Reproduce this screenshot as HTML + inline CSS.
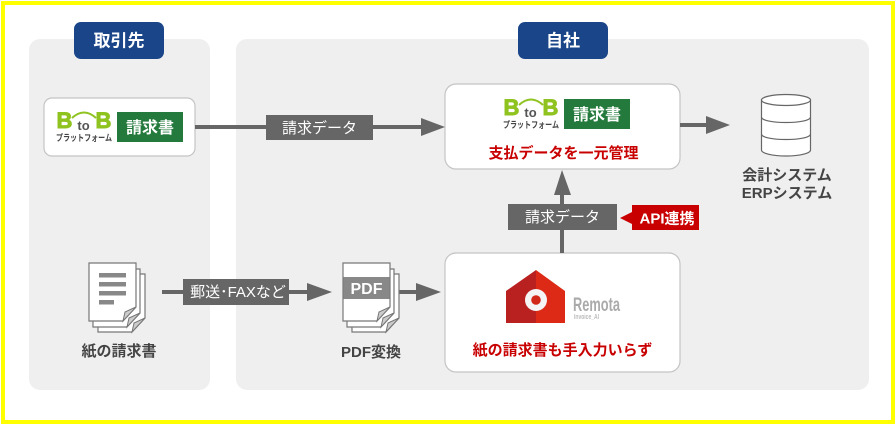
<!DOCTYPE html>
<html lang="ja"><head><meta charset="utf-8"><style>
html,body{margin:0;padding:0;background:#fff}
svg{display:block}
text{font-family:"Liberation Sans","Noto Sans CJK JP",sans-serif}
</style></head><body>
<svg width="896" height="425" viewBox="0 0 896 425" xmlns="http://www.w3.org/2000/svg">
<defs>
<g id="logo">
<text x="56.500" y="128" font-size="22" font-weight="700" fill="#8fc31f" stroke="#8fc31f" stroke-width="0.900">B</text>
<text x="95.500" y="128" font-size="22" font-weight="700" fill="#8fc31f" stroke="#8fc31f" stroke-width="0.900">B</text>
<path d="M72 118Q84 107 96 118" fill="none" stroke="#8fc31f" stroke-width="2"/>
<text x="83.500" y="130" font-size="13" font-weight="700" fill="#555" text-anchor="middle">to</text>
<text x="56" y="141" font-size="9" font-weight="700" fill="#444" textLength="56" lengthAdjust="spacingAndGlyphs">プラットフォーム</text>
<rect x="117" y="112" width="66" height="30" fill="#237a3c"/>
<text x="150" y="133" font-size="16" font-weight="700" fill="#fff" text-anchor="middle">請求書</text>
</g>
<g id="sheet">
<path d="M0 0H47V44L34 58H0Z" fill="#fff" stroke="#777" stroke-width="1.200"/>
<path d="M34 58L36 49L47 44Z" fill="#ccc" stroke="#777" stroke-width="1"/>
</g>
</defs>
<rect width="896" height="425" fill="#fff"/>
<rect x="3" y="3" width="890" height="419" fill="none" stroke="#ffff00" stroke-width="4"/>
<rect x="29" y="39" width="181" height="351" rx="11" fill="#efefef"/>
<rect x="236" y="39" width="633" height="351" rx="11" fill="#efefef"/>
<rect x="74" y="22" width="90" height="37" rx="7" fill="#1a4689"/>
<text x="119" y="46.500" font-size="17" font-weight="700" fill="#fff" text-anchor="middle">取引先</text>
<rect x="518" y="22" width="90" height="37" rx="7" fill="#1a4689"/>
<text x="563" y="46.500" font-size="17" font-weight="700" fill="#fff" text-anchor="middle">自社</text>

<rect x="44" y="98" width="151" height="58" rx="8" fill="#fff" stroke="#c4c4c4" stroke-width="1.200"/>
<use href="#logo"/>
<rect x="445" y="84" width="235" height="85" rx="11" fill="#fff" stroke="#c4c4c4" stroke-width="1.200"/>
<use href="#logo" transform="translate(447 -13)"/>
<text x="563.500" y="158" font-size="15" font-weight="700" fill="#c80000" text-anchor="middle">支払データを一元管理</text>

<rect x="445" y="253" width="235" height="119" rx="11" fill="#fff" stroke="#c4c4c4" stroke-width="1.200"/>
<path d="M536 270L506 291V323H536Z" fill="#b92020"/>
<path d="M536 270L565 291V323H536Z" fill="#dc2a16"/>
<circle cx="536" cy="300" r="11" fill="#f5f5f5"/>
<circle cx="536" cy="300" r="4.800" fill="#d1281a"/>
<text x="573" y="311" font-size="19" font-weight="700" fill="#aaa" textLength="47" lengthAdjust="spacingAndGlyphs">Remota</text>
<text x="574" y="319" font-size="7" font-weight="700" fill="#bbb" textLength="25" lengthAdjust="spacingAndGlyphs">Invoice_AI</text>
<text x="562.500" y="355" font-size="15" font-weight="700" fill="#c80000" text-anchor="middle">紙の請求書も手入力いらず</text>

<!-- arrows -->
<rect x="195" y="125" width="228" height="4" fill="#666"/>
<path d="M421 118L445 127L421 136Z" fill="#666"/>
<rect x="266" y="115" width="107" height="25" fill="#666"/>
<text x="319.500" y="133" font-size="15" fill="#fff" text-anchor="middle">請求データ</text>

<rect x="680" y="123" width="28" height="4" fill="#666"/>
<path d="M706 116L730 125L706 134Z" fill="#666"/>

<rect x="560" y="194" width="4" height="59" fill="#666"/>
<path d="M554 195L562 170L571 195Z" fill="#666"/>
<rect x="508" y="204" width="109" height="26" fill="#666"/>
<text x="562.500" y="222" font-size="15" fill="#fff" text-anchor="middle">請求データ</text>
<path d="M632 205H699V230H632V224L620 218L632 212Z" fill="#c80000"/>
<text x="667" y="223.500" font-size="15" font-weight="700" fill="#fff" text-anchor="middle">API連携</text>

<rect x="162" y="290" width="146" height="4" fill="#666"/>
<path d="M307 283L332 292L307 301Z" fill="#666"/>
<rect x="183" y="279" width="106" height="26" fill="#666"/>
<text x="238" y="297" font-size="15" fill="#fff" text-anchor="middle">郵送･FAXなど</text>

<rect x="398" y="290" width="20" height="4" fill="#666"/>
<path d="M416 283L441 292L416 301Z" fill="#666"/>

<!-- paper docs -->
<use href="#sheet" transform="translate(98 274)"/>
<use href="#sheet" transform="translate(93 269)"/>
<use href="#sheet" transform="translate(89 263)"/>
<g fill="#888">
<rect x="99" y="273" width="27" height="4.500"/>
<rect x="99" y="282" width="27" height="4.500"/>
<rect x="99" y="291" width="27" height="4.500"/>
<rect x="99" y="300" width="15" height="4.500"/>
</g>
<text x="119" y="356" font-size="15" font-weight="700" fill="#444" text-anchor="middle">紙の請求書</text>

<!-- pdf docs -->
<use href="#sheet" transform="translate(352 274)"/>
<use href="#sheet" transform="translate(347 269)"/>
<use href="#sheet" transform="translate(343 263)"/>
<rect x="343.500" y="277" width="46" height="22" fill="#888"/>
<text x="366.500" y="294" font-size="16" font-weight="700" fill="#fff" text-anchor="middle">PDF</text>
<text x="371" y="357" font-size="15" font-weight="700" fill="#444" text-anchor="middle">PDF変換</text>

<!-- database -->
<path d="M761.500 100V150C761.500 153.500 773 156 786 156S810.500 153.500 810.500 150V100Z" fill="#fff" stroke="#666" stroke-width="1.200"/>
<ellipse cx="786" cy="100" rx="24.500" ry="5.500" fill="#fff" stroke="#666" stroke-width="1.200"/>
<path d="M761.500 117C761.500 120.500 773 122.500 786 122.500S810.500 120.500 810.500 117M761.500 134C761.500 137.500 773 139.500 786 139.500S810.500 137.500 810.500 134" fill="none" stroke="#666" stroke-width="1.200"/>
<text x="787" y="180" font-size="15" font-weight="700" fill="#444" text-anchor="middle">会計システム</text>
<text x="787" y="198" font-size="15" font-weight="700" fill="#444" text-anchor="middle">ERPシステム</text>
</svg>
</body></html>
